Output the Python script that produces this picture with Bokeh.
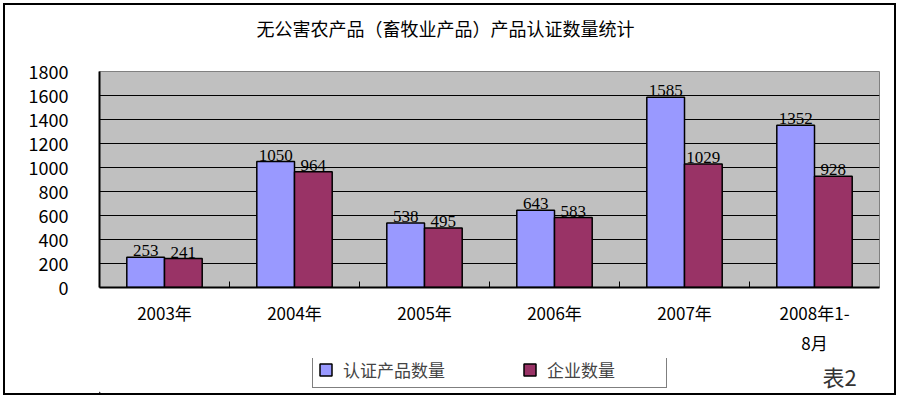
from bokeh.plotting import figure
from bokeh.layouts import column
from bokeh.models import (ColumnDataSource, Range1d, FixedTicker,
                          LabelSet, Label, Legend, LegendItem)
from bokeh.transform import dodge
from bokeh.embed import file_html
from bokeh.resources import INLINE

title_text = "无公害农产品（畜牧业产品）产品认证数量统计"
years = ["2003年", "2004年", "2005年", "2006年", "2007年", "2008年1-\n8月"]
cert_products = [253, 1050, 538, 643, 1585, 1352]
enterprises = [241, 964, 495, 583, 1029, 928]
series_names = ["认证产品数量", "企业数量"]
y_ticks = [0, 200, 400, 600, 800, 1000, 1200, 1400, 1600, 1800]
note_text = "表2"

FONT = "Noto Sans CJK SC"
BLUE = "#9999FF"
MAROON = "#993366"

W = 889
H_HEAD = 40
H_MAIN = 313
H_FOOT = 35
BL, BR = 94, 15
FRAME_W = W - BL - BR
FRAME_H = 287 - 71

n = len(years)
pos = list(range(n))
source = ColumnDataSource(dict(
    pos=pos,
    cert=cert_products,
    ent=enterprises,
    cert_txt=[str(v) for v in cert_products],
    ent_txt=[str(v) for v in enterprises],
))


def blank_panel(height):
    fig = figure(width=W, height=height, x_range=Range1d(0, FRAME_W), y_range=Range1d(0, height),
                 output_backend="svg", toolbar_location=None, tools="",
                 x_axis_type=None, y_axis_type=None)
    fig.min_border_left = BL
    fig.min_border_right = BR
    fig.min_border_top = 0
    fig.min_border_bottom = 0
    fig.title.visible = False
    fig.outline_line_color = None
    fig.grid.visible = False
    fig.background_fill_color = "white"
    fig.border_fill_color = "white"
    return fig


# header with the chart title
h = blank_panel(H_HEAD)
h.add_layout(Label(x=346, y=18, text=title_text,
                   text_align="center", text_baseline="middle", text_font=FONT,
                   text_font_size="18px", text_color="black"))

# main chart
y_max = y_ticks[-1]
p = figure(width=W, height=H_MAIN, x_range=Range1d(-0.5, n - 0.5), y_range=Range1d(0, y_max),
           output_backend="svg", toolbar_location=None, tools="")
p.title.visible = False
p.min_border_left = BL
p.min_border_right = BR
p.min_border_top = 26
p.min_border_bottom = 71
p.background_fill_color = "#C0C0C0"
p.border_fill_color = "white"
p.outline_line_color = "#808080"
p.outline_line_width = 1

OFF = 0.145
r1 = p.vbar(x=dodge("pos", -OFF), top="cert", width=0.29, source=source,
            fill_color=BLUE, line_color="black", line_width=1.5)
r2 = p.vbar(x=dodge("pos", OFF), top="ent", width=0.29, source=source,
            fill_color=MAROON, line_color="black", line_width=1.5)

# grid
p.xgrid.visible = False
p.ygrid.ticker = FixedTicker(ticks=y_ticks[1:-1])
p.ygrid.grid_line_color = "black"
p.ygrid.grid_line_width = 1

# y axis
p.yaxis.ticker = FixedTicker(ticks=y_ticks)
p.yaxis.major_tick_line_color = None
p.yaxis.minor_tick_line_color = None
p.yaxis.axis_line_color = "black"
p.yaxis.axis_line_width = 2
p.yaxis.major_label_standoff = 25
p.yaxis.major_label_text_font = FONT
p.yaxis.major_label_text_font_size = "18px"
p.yaxis.major_label_text_color = "black"

# x axis: category labels at group centres
xa = p.xaxis[0]
xa.ticker = FixedTicker(ticks=pos)
xa.major_label_overrides = {i: y for i, y in zip(pos, years)}
xa.major_tick_line_color = None
xa.minor_tick_line_color = None
xa.axis_line_color = "black"
xa.axis_line_width = 2
xa.major_label_standoff = 6
xa.major_label_text_font = FONT
xa.major_label_text_font_size = "17px"
xa.major_label_text_color = "black"

# inward tick marks at category boundaries
tick_len = 6 * y_max / FRAME_H
bnd = [i + 0.5 for i in pos[:-1]]
p.segment(x0=bnd, y0=[0] * len(bnd), x1=bnd, y1=[tick_len] * len(bnd),
          line_color="black", line_width=1)

# value labels
for col, txt, off in (("cert", "cert_txt", -OFF), ("ent", "ent_txt", OFF)):
    p.add_layout(LabelSet(x=dodge("pos", off), y=col, text=txt, source=source,
                          text_align="center", text_baseline="bottom", y_offset=1,
                          text_font=FONT, text_font_size="17px", text_color="black"))

# footer with legend and note
f = blank_panel(H_FOOT)
# legend swatches (placed outside the visible x range)
d1 = f.vbar(x=[-100], top=[1], width=1, fill_color=BLUE, line_color="black", line_width=1.5)
d2 = f.vbar(x=[-100], top=[1], width=1, fill_color=MAROON, line_color="black", line_width=1.5)

legend = Legend(items=[LegendItem(label=series_names[0], renderers=[d1]),
                       LegendItem(label=series_names[1], renderers=[d2])],
                orientation="horizontal", location=(213, 5),
                glyph_width=15, glyph_height=15, label_standoff=10, label_width=114,
                spacing=65, padding=5, margin=0, label_height=15,
                label_text_font=FONT, label_text_font_size="17px",
                border_line_color="black", border_line_width=1,
                background_fill_color="white", background_fill_alpha=1)
f.add_layout(legend, "center")

f.add_layout(Label(x=740, y=18, text=note_text,
                   text_align="center", text_baseline="middle", text_font=FONT,
                   text_font_size="22px", text_color="#333333"))

layout = column(h, p, f, spacing=0)
layout.styles = {"border": "2px solid black", "margin": "3px"}

open("out.html", "w").write(file_html(layout, INLINE))
